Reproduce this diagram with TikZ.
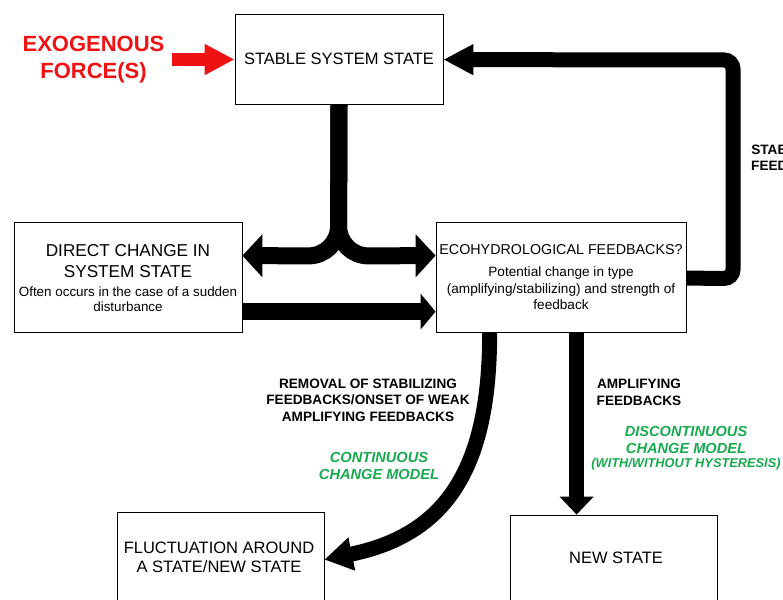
\documentclass[tikz,border=0pt]{standalone}
\usepackage{fontspec}
\setmainfont{Liberation Sans}
\usetikzlibrary{arrows.meta,calc}
\definecolor{exored}{RGB}{240,18,18}
\definecolor{modelgreen}{RGB}{22,170,78}
\tikzset{
  box/.style={draw=black,line width=0.8pt,fill=white,inner sep=0pt,minimum width=#1},
  boxtxt/.style={font=\fontsize{16.5}{19.5}\selectfont,align=center,inner sep=0pt},
  smalltxt/.style={font=\fontsize{13.4}{15}\selectfont,align=center,inner sep=0pt},
  lbl/.style={font=\fontsize{13.6}{16.5}\selectfont\bfseries,align=center,inner sep=0pt},
  green lbl/.style={font=\fontsize{14.6}{17}\selectfont\bfseries\itshape,text=modelgreen,align=center,inner sep=0pt},
  fat/.style={line width=17pt,draw=black},
}
\begin{document}
\begin{tikzpicture}[x=1pt,y=-1pt]
\useasboundingbox (0,0) rectangle (783,599);
\clip (0,0) rectangle (783,599);

% boxes
\node[box=208pt,minimum height=90pt] (stable) at (339,59) {};
\node[box=228pt,minimum height=110pt] (direct) at (128,277) {};
\node[box=250pt,minimum height=110pt] (eco) at (561,277) {};
\node[box=207pt,minimum height=100pt] (fluct) at (220.5,562) {};
\node[box=207pt,minimum height=100pt] (newst) at (613.5,565) {};

% box texts
\node[boxtxt] (stableT) at (339,59) {STABLE SYSTEM STATE};
\node[boxtxt,font=\fontsize{17.2}{21}\selectfont] (directT) at (128,261.5) {DIRECT CHANGE IN\\SYSTEM STATE};
\node[smalltxt] (directS) at (128,299.5) {Often occurs in the case of a sudden\\disturbance};
\node[boxtxt,font=\fontsize{14.3}{17}\selectfont] (ecoT) at (561,250) {ECOHYDROLOGICAL FEEDBACKS?};
\node[smalltxt,font=\fontsize{13.6}{16.5}\selectfont] (ecoS) at (561,288.5) {Potential change in type\\(amplifying/stabilizing) and strength of\\feedback};
\node[boxtxt] (fluctT) at (219,557.5) {FLUCTUATION AROUND\\A STATE/NEW STATE};
\node[boxtxt] (newstT) at (616,558) {NEW STATE};

% exogenous forces
\node[font=\fontsize{22}{27}\selectfont\bfseries,text=exored,align=center,inner sep=0pt] (exo) at (93.5,59.5) {EXOGENOUS\\FORCE(S)};
\coordinate (exoStart) at (172,59.5);
\draw[exored,line width=13pt,-{Triangle[width=29pt,length=30pt]}] (exoStart) -- (stable.west |- exoStart);

% split arrow from stable state
\coordinate (split) at (338.5,256);
\draw[fat,rounded corners=30pt,-{Triangle[width=42pt,length=20pt]}]
  (stable.south) -- (split) -- ($(direct.north east)+(0,34)$);
\draw[fat,rounded corners=30pt,-{Triangle[width=42pt,length=20pt]}]
  (stable.south) -- (split) -- ($(eco.north west)+(0,34)$);

% direct -> eco
\draw[fat,-{Triangle[width=35pt,length=15pt]}]
  ($(direct.north east)+(0,90)$) -- ($(eco.north west)+(0,90)$);

% stabilizing feedback loop
\coordinate (loopA) at (733,278.5);
\coordinate (loopB) at (733,60);
\draw[line width=15pt,rounded corners=9pt,-{Triangle[width=29pt,length=30pt]}]
  ($(eco.north east)+(0,56.5)$) -- (loopA) -- (loopB) -- ($(stable.north east)+(0,46)$);
\node[lbl,anchor=west] (stabT) at (751,158) {STABILIZING\\FEEDBACKS};

% eco -> fluctuation (continuous)
\coordinate (curveS) at ($(eco.south west)+(54,0)$);
\coordinate (curveE) at ($(fluct.north east)+(0,48)$);
\draw[line width=15pt,-{Triangle[width=32pt,length=28pt]}]
  (curveS) .. controls (490,470) and (445,535) .. (curveE);
\node[lbl] (removal) at (368,400) {REMOVAL OF STABILIZING\\FEEDBACKS/ONSET OF WEAK\\AMPLIFYING FEEDBACKS};
\node[green lbl] (contT) at (379,465.5) {CONTINUOUS\\CHANGE MODEL};

% eco -> new state (discontinuous)
\draw[line width=15pt,-{Triangle[width=33pt,length=18pt]}]
  ($(eco.south west)+(141,0)$) -- ($(newst.north west)+(67,0)$);
\node[lbl] (ampT) at (639,392.5) {AMPLIFYING\\FEEDBACKS};
\node[green lbl,align=center] (discT) at (686,448) {DISCONTINUOUS\\CHANGE MODEL\\[-3pt]{\fontsize{12.8}{14}\selectfont (WITH/WITHOUT HYSTERESIS)}};
\end{tikzpicture}
\end{document}
